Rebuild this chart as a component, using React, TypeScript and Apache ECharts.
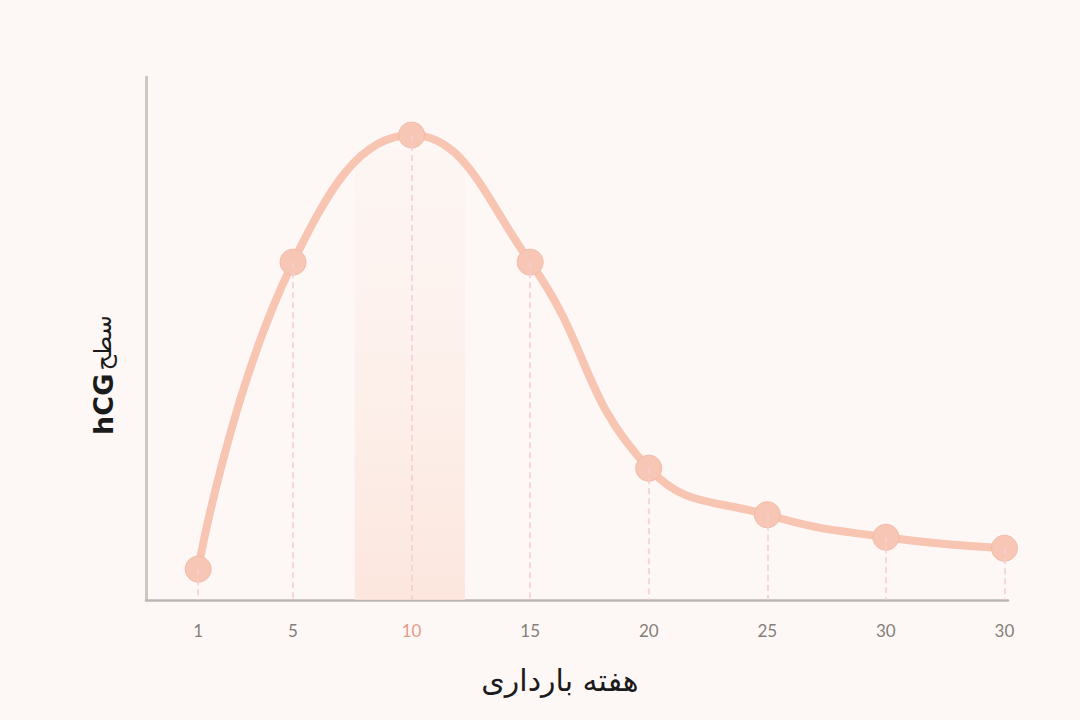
import { useEffect, useRef } from 'react';
import * as echarts from 'echarts';

// weeks of pregnancy, the tick labels under them, and the hCG level (0-100 scale)
const weeks = [1, 5, 10, 15, 20, 25, 30, 35];
const weekLabels = ['1', '5', '10', '15', '20', '25', '30', '30'];
const hcgLevel = [5.9, 64.6, 88.9, 64.6, 25.2, 16.3, 12.0, 9.9];
const peakBand = [7.6, 12.25];
const peakBandTop = 86;
const highlightWeek = 10;

const xTitle = 'هفته بارداری';
const yTitleLatin = 'hCG';
const yTitlePersian = 'سطح';

export default function App() {
  const ref = useRef<HTMLDivElement | null>(null);

  useEffect(() => {
    if (!ref.current) return;
    const chart = echarts.init(ref.current, undefined, { renderer: 'svg' });
    const points = weeks.map((w, i) => [w, hcgLevel[i]]);
    const labelOf = new Map(weeks.map((w, i) => [w, weekLabels[i]]));

    chart.setOption({
      animation: false,
      backgroundColor: '#FDF8F6',
      grid: { left: 146, right: 72, top: 77, bottom: 120 },
      xAxis: {
        type: 'value',
        min: -1.2,
        max: 35.15,
        splitLine: { show: false },
        axisLine: { onZero: false, lineStyle: { color: '#BDB5B6', width: 2.5 } },
        axisTick: { show: false },
        axisLabel: {
          customValues: weeks,
          margin: 22,
          formatter: (v: number) => {
            const t = labelOf.get(v) ?? '';
            return v === highlightWeek ? `{hi|${t}}` : `{n|${t}}`;
          },
          rich: {
            n: { color: '#857E78', fontSize: 17, fontFamily: 'Lato' },
            hi: { color: '#E59C86', fontSize: 17, fontFamily: 'Lato' },
          },
        },
      },
      yAxis: {
        type: 'value',
        min: 0,
        max: 100,
        splitLine: { show: false },
        axisLabel: { show: false },
        axisTick: { show: false },
        axisLine: { show: true, onZero: false, lineStyle: { color: '#CEC6BF', width: 3 } },
      },
      graphic: [
        {
          type: 'text',
          x: 103,
          y: 375,
          rotation: Math.PI / 2,
          style: {
            text: `{b|${yTitleLatin}} {r|${yTitlePersian}}`,
            align: 'center',
            verticalAlign: 'middle',
            rich: {
              b: { fontSize: 27, fontWeight: 'bold', fill: '#1B1B1B', fontFamily: 'DejaVu Sans' },
              r: { fontSize: 24, fill: '#1B1B1B', fontFamily: 'DejaVu Sans' },
            },
          },
        },
        {
          type: 'text',
          x: 560,
          y: 680,
          style: { text: xTitle, fontSize: 30, fill: '#1B1B1B', fontFamily: 'DejaVu Sans', align: 'center', verticalAlign: 'middle' },
        },
      ],
      series: [
        {
          type: 'line',
          data: points,
          smooth: 0.45,
          symbol: 'circle',
          symbolSize: 26,
          z: 3,
          lineStyle: { color: '#F7C5B2', width: 8 },
          itemStyle: { color: '#F8C6B5', borderColor: '#F2BBA7', borderWidth: 1 },
          markArea: {
            silent: true,
            z: 1,
            itemStyle: {
              color: new echarts.graphic.LinearGradient(0, 0, 0, 1, [
                { offset: 0, color: 'rgba(253,240,236,0.3)' },
                { offset: 1, color: 'rgba(252,226,216,0.8)' },
              ]),
            },
            data: [[{ xAxis: peakBand[0], yAxis: 0 }, { xAxis: peakBand[1], yAxis: peakBandTop }]],
          },
          markLine: {
            silent: true,
            symbol: 'none',
            label: { show: false },
            lineStyle: { color: '#F5CDD3', type: [6, 4], width: 1.6 },
            data: points.map(([x, y]) => [
              { coord: [x, y] },
              { coord: [x, 0] },
            ]),
          },
        },
      ],
    });
    return () => chart.dispose();
  }, []);

  return <div ref={ref} style={{ position: 'fixed', left: 0, top: 0, width: 1080, height: 720 }} />;
}
